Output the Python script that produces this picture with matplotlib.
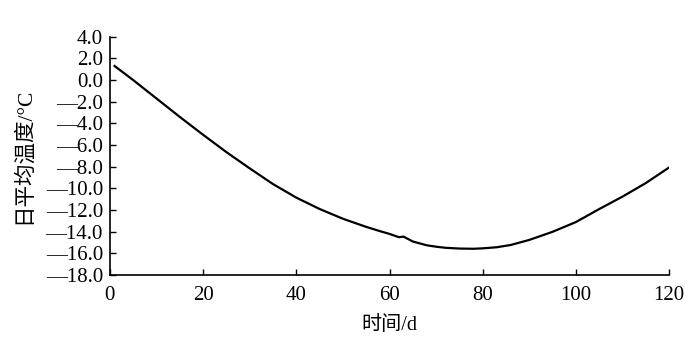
import matplotlib
matplotlib.use('Agg')
import matplotlib.pyplot as plt
from matplotlib.ticker import FuncFormatter

# daily mean temperature
days = [1, 5, 10, 15, 20, 25, 30, 35, 40, 45, 50, 55, 58, 60, 62, 63, 65,
        68, 70, 72, 75, 78, 80, 83, 86, 90, 95, 100, 105, 110, 115, 120]
temps = [1.3, 0.0, -1.7, -3.4, -5.05, -6.65, -8.15, -9.6, -10.85, -11.9,
         -12.8, -13.55, -13.95, -14.2, -14.5, -14.45, -14.9, -15.25, -15.38,
         -15.48, -15.55, -15.57, -15.53, -15.43, -15.22, -14.75, -14.0,
         -13.1, -11.9, -10.75, -9.5, -8.06]

x_ticks = [0, 20, 40, 60, 80, 100, 120]
y_ticks = [4, 2, 0, -2, -4, -6, -8, -10, -12, -14, -16, -18]

serif = ['Liberation Serif', 'DejaVu Serif']
cjk = ['Liberation Serif', 'Noto Sans CJK SC']


def fmt_y(v, pos):
    s = '%.1f' % abs(v)
    return ('\u2014' + s) if v < 0 else s


fig = plt.figure(figsize=(7, 3.5), dpi=100)
ax = fig.add_axes([0.157, 0.214, 0.799, 0.681])
ax.plot(days, temps, color='black', linewidth=1.6)

ax.set_xlim(0, 120)
ax.set_ylim(-18, 4)
ax.set_xticks(x_ticks)
ax.set_yticks(y_ticks)
ax.yaxis.set_major_formatter(FuncFormatter(fmt_y))

for side in ['top', 'right']:
    ax.spines[side].set_visible(False)
for side in ['left', 'bottom']:
    ax.spines[side].set_linewidth(1.2)

ax.tick_params(direction='in', length=4, width=1.0)
ax.tick_params(axis='x', pad=8)
ax.tick_params(axis='y', pad=5)
for lab in ax.get_xticklabels() + ax.get_yticklabels():
    lab.set_fontfamily(serif)
    lab.set_fontsize(15)

ax.set_xlabel('时间/d', family=cjk, fontsize=14.5, labelpad=8)
ax.set_ylabel('日平均温度/°C', family=cjk, fontsize=15.5, labelpad=8)

fig.savefig('out.png', dpi=100)
